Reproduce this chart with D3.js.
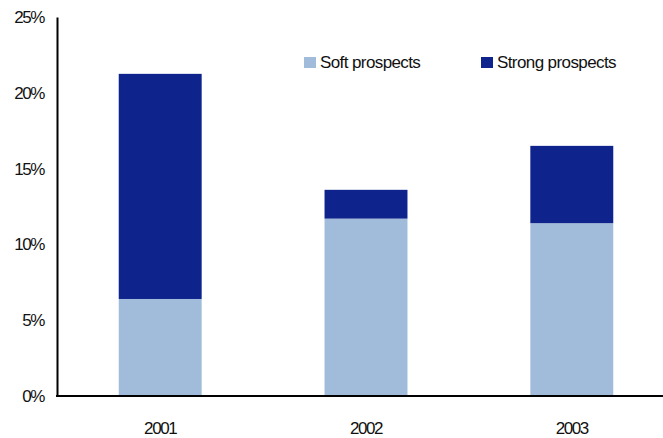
<!DOCTYPE html>
<html>
<head>
<meta charset="utf-8">
<script src="https://cdn.jsdelivr.net/npm/d3@7/dist/d3.min.js"></script>
<style>
  html, body { margin: 0; padding: 0; background: #fff; }
  svg { display: block; font-family: "Liberation Sans", Arial, sans-serif; }
</style>
</head>
<body>
<svg id="chart" width="663" height="438"></svg>
<script>
// Share of respondents by year, split into soft and strong prospects (%)
const years = ["2001", "2002", "2003"];
const softProspects = [6.4, 11.7, 11.4];
const strongProspects = [14.85, 1.9, 5.1];
const yTicks = [0, 5, 10, 15, 20, 25];
const seriesNames = ["Soft prospects", "Strong prospects"];
const seriesColors = ["#A0BCDA", "#0E238C"];

const svg = d3.select("#chart");
const W = 663, H = 438;
const plot = { left: 57, top: 17, bottom: 396 };

const x = d3.scaleBand()
  .domain(years)
  .range([plot.left, plot.left + 618])
  .paddingInner(0.597)
  .paddingOuter(0.3);

const y = d3.scaleLinear().domain([0, 25]).range([plot.bottom, plot.top]);

const rows = years.map((yr, i) => ({ year: yr, soft: softProspects[i], strong: strongProspects[i] }));
const stacked = d3.stack().keys(["soft", "strong"])(rows);

svg.append("g")
  .selectAll("g")
  .data(stacked)
  .join("g")
  .attr("fill", (d, i) => seriesColors[i])
  .selectAll("rect")
  .data(d => d)
  .join("rect")
  .attr("x", d => x(d.data.year))
  .attr("width", x.bandwidth())
  .attr("y", d => y(d[1]))
  .attr("height", d => y(d[0]) - y(d[1]));

// Y axis
const yAxis = svg.append("g")
  .attr("transform", `translate(${plot.left},0)`)
  .call(d3.axisLeft(y).tickValues(yTicks).tickFormat(d => d + "%").tickSize(0).tickPadding(13));
yAxis.select(".domain").attr("stroke", "#000").attr("stroke-width", 2);
yAxis.selectAll("text")
  .attr("font-size", 17)
  .attr("letter-spacing", "-1.4px")
  .attr("fill", "#111")
  .attr("font-family", "'Liberation Sans', Arial, sans-serif");

// X axis
const xAxis = svg.append("g")
  .attr("transform", `translate(0,${plot.bottom})`)
  .call(d3.axisBottom(x).tickSize(0).tickPadding(26));
xAxis.select(".domain").remove();
svg.append("line")
  .attr("x1", plot.left - 1).attr("x2", W)
  .attr("y1", plot.bottom).attr("y2", plot.bottom)
  .attr("stroke", "#000").attr("stroke-width", 2);
xAxis.selectAll("text")
  .attr("font-size", 17)
  .attr("letter-spacing", "-1.4px")
  .attr("fill", "#111")
  .attr("font-family", "'Liberation Sans', Arial, sans-serif");

// Legend
const legendX = [304, 481];
const legend = svg.append("g");
seriesNames.forEach((name, i) => {
  const g = legend.append("g").attr("transform", `translate(${legendX[i]},57)`);
  g.append("rect").attr("width", 12).attr("height", 11).attr("fill", seriesColors[i]);
  g.append("text")
    .attr("x", 16).attr("y", 5.5)
    .attr("dy", "0.35em")
    .attr("font-size", 17)
    .attr("letter-spacing", "-0.6px")
    .attr("fill", "#111")
    .text(name);
});
</script>
</body>
</html>
